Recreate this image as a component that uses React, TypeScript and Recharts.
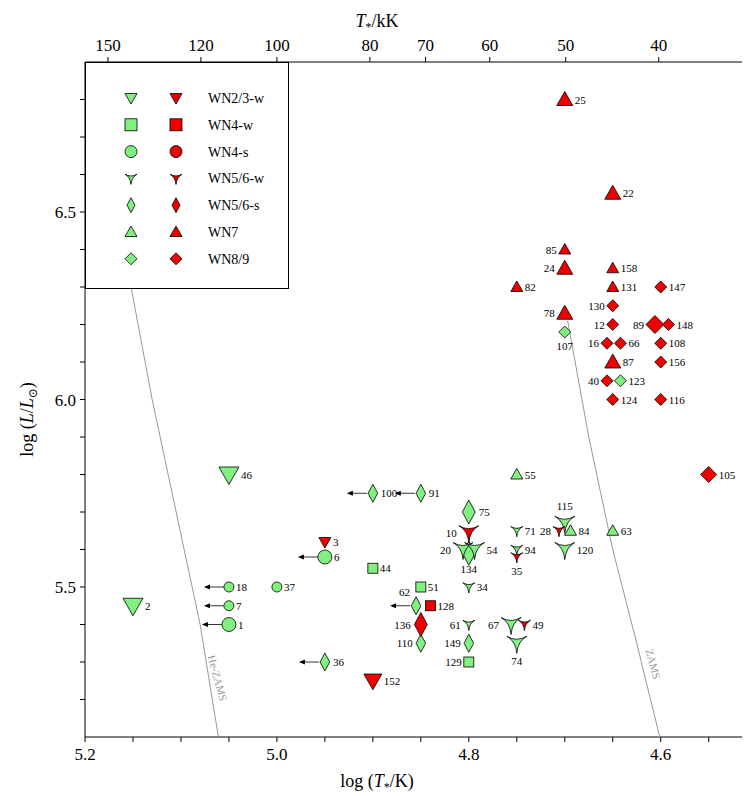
import { ComposedChart, Scatter, XAxis, YAxis, Label } from "recharts"

const FONT = "'Liberation Serif', 'DejaVu Serif', serif"
const GREEN = "#80f080"
const RED = "#ee0000"

// star id, log T, log L, class, colour, size, label side, arrow (upper limit on T)
const IDS = ["46","2","18","7","1","37","6","44","51","129","100","91","62","110","36","149","75","134","20","54","34","61","71","94","67","74","115","120","55","84","63","107","123",
  "25","22","85","24","82","78","158","131","87","147","130","12","89","148","16","66","108","156","40","124","116","105","3","10","35","28","49","128","136","152"]
const LOG_T = [5.05,5.15,5.05,5.05,5.05,5.0,4.95,4.9,4.85,4.8,4.9,4.85,4.855,4.85,4.95,4.8,4.8,4.8,4.806,4.794,4.8,4.8,4.75,4.75,4.756,4.75,4.7,4.7,4.75,4.694,4.65,4.7,4.642,
  4.7,4.65,4.7,4.7,4.75,4.7,4.65,4.65,4.65,4.6,4.65,4.65,4.606,4.592,4.656,4.642,4.6,4.6,4.656,4.65,4.6,4.55,4.95,4.8,4.75,4.706,4.742,4.84,4.85,4.9]
const LOG_L = [5.8,5.45,5.5,5.45,5.4,5.5,5.58,5.55,5.5,5.3,5.75,5.75,5.45,5.35,5.3,5.35,5.7,5.59,5.6,5.6,5.5,5.4,5.65,5.6,5.4,5.35,5.67,5.6,5.8,5.65,5.65,6.18,6.05,
  6.8,6.55,6.4,6.35,6.3,6.23,6.35,6.3,6.1,6.3,6.25,6.2,6.2,6.2,6.15,6.15,6.15,6.1,6.05,6.0,6.0,5.8,5.62,5.645,5.58,5.65,5.4,5.45,5.4,5.25]
const KIND = ["td","td","c","c","c","c","c","sq","sq","sq","ds","ds","ds","ds","ds","ds","ds","ds","y","y","y","y","y","y","y","y","y","y","tu","tu","tu","dd","dd",
  "tu","tu","tu","tu","tu","tu","tu","tu","tu","dd","dd","dd","dd","dd","dd","dd","dd","dd","dd","dd","dd","dd","td","y","y","y","y","sq","ds","td"]
const RED_FROM = 33
const SIZE = [10,10,5,5,7,5,7,5,5,5,6,6,6,6,6,6,8,8,10,10,6,6,6,6,10,10,10,10,6,6,6,6,6,
  8,8,6,8,6,8,6,6,8,6,6,6,9,6,6,6,6,6,6,6,6,8,6,10,6,6,6,5,8,9]
const SIDE = ["r","r","r","r","r","r","r","r","r","l","r","r","tl","l","r","l","r","b","l","r","r","l","r","r","l","b","t","r","r","r","r","b","r",
  "r","r","l","l","r","l","r","r","r","r","l","l","l","r","l","r","r","r","l","r","r","r","r","l","b","l","r","r","l","r"]
const ARROW = ["18","7","1","6","100","91","62","36"]

const HE_ZAMS_T = [5.152,5.13,5.105,5.08,5.061]
const HE_ZAMS_L = [6.3,6.0,5.7,5.4,5.1]
const ZAMS_T = [4.697,4.675,4.65,4.625,4.601]
const ZAMS_L = [6.21,5.9,5.6,5.35,5.1]

const X_TICKS = [5.2,5.15,5.1,5.05,5.0,4.95,4.9,4.85,4.8,4.75,4.7,4.65,4.6,4.55]
const Y_TICKS = [5.2,5.3,5.4,5.5,5.6,5.7,5.8,5.9,6.0,6.1,6.2,6.3,6.4,6.5,6.6,6.7,6.8]
const TOP_KK = [150,120,100,80,70,60,50,40]

const LEGEND_NAMES = ["WN2/3-w","WN4-w","WN4-s","WN5/6-w","WN5/6-s","WN7","WN8/9"]
const LEGEND_KINDS = ["td","sq","c","y","ds","tu","dd"]

const points = IDS.map((id, i) => ({
  id, x: LOG_T[i], y: LOG_L[i], kind: KIND[i], fill: i >= RED_FROM ? RED : GREEN,
  size: SIZE[i], side: SIDE[i], arrow: ARROW.includes(id),
}))
const heZams = HE_ZAMS_T.map((x, i) => ({ x, y: HE_ZAMS_L[i] }))
const zams = ZAMS_T.map((x, i) => ({ x, y: ZAMS_L[i] }))

function Marker({ kind, cx, cy, s, fill }: { kind: string; cx: number; cy: number; s: number; fill: string }) {
  const st = { fill, stroke: "#000", strokeWidth: 0.8 }
  if (kind === "c") return <circle cx={cx} cy={cy} r={s} {...st} />
  if (kind === "sq") return <rect x={cx - s} y={cy - s} width={2 * s} height={2 * s} {...st} />
  if (kind === "td") return <path d={`M${cx - s},${cy - s * 0.75} L${cx + s},${cy - s * 0.75} L${cx},${cy + s} Z`} {...st} />
  if (kind === "tu") return <path d={`M${cx - s},${cy + s * 0.75} L${cx + s},${cy + s * 0.75} L${cx},${cy - s} Z`} {...st} />
  if (kind === "ds") return <path d={`M${cx},${cy - s * 1.5} L${cx + s * 0.8},${cy} L${cx},${cy + s * 1.5} L${cx - s * 0.8},${cy} Z`} {...st} />
  if (kind === "dd") return <path d={`M${cx},${cy - s} L${cx + s},${cy} L${cx},${cy + s} L${cx - s},${cy} Z`} {...st} />
  // WN5/6-w: concave triangle
  return <path d={`M${cx - s},${cy - s * 0.7} Q${cx},${cy - s * 0.1} ${cx + s},${cy - s * 0.7} Q${cx + s * 0.1},${cy - s * 0.2} ${cx},${cy + s} Q${cx - s * 0.1},${cy - s * 0.2} ${cx - s},${cy - s * 0.7} Z`} {...st} />
}

function StarShape(props: any) {
  const { cx, cy, payload } = props
  const s = payload.size
  let tx = cx + s + 2, ty = cy + 4, anchor = "start"
  if (payload.side === "l") { tx = cx - s - 2; anchor = "end" }
  if (payload.side === "b") { tx = cx; ty = cy + s + 12; anchor = "middle" }
  if (payload.side === "t") { tx = cx; ty = cy - s - 3; anchor = "middle" }
  if (payload.side === "tl") { tx = cx - 6; ty = cy - s - 4; anchor = "end" }
  return (
    <g>
      {payload.arrow && (
        <g>
          <line x1={cx - s} y1={cy} x2={cx - s - 18} y2={cy} stroke="#000" strokeWidth={0.8} />
          <path d={`M${cx - s - 20},${cy} L${cx - s - 14},${cy - 2.5} L${cx - s - 14},${cy + 2.5} Z`} fill="#000" />
        </g>
      )}
      <Marker kind={payload.kind} cx={cx} cy={cy} s={s} fill={payload.fill} />
      <text x={tx} y={ty} fontSize={11} fontFamily={FONT} textAnchor={anchor}>{payload.id}</text>
    </g>
  )
}

function makeTick(fmt: (v: number) => string, where: "b" | "t" | "l") {
  return (p: any) => {
    const v = p.payload.value
    const txt = fmt(v)
    if (!txt) return <g />
    if (where === "l") return <text x={p.x - 2} y={p.y + 6} textAnchor="end" fontSize={17} fontFamily={FONT}>{txt}</text>
    return <text x={p.x} y={where === "b" ? p.y + 16 : p.y - 4} textAnchor="middle" fontSize={17} fontFamily={FONT}>{txt}</text>
  }
}
const fmtBottom = (v: number) => (Math.round(v * 100) % 20 === 0 ? v.toFixed(1) : "")
const fmtTop = (v: number) => String(Math.round(Math.pow(10, v) / 1000))
const fmtLeft = (v: number) => (Math.round(v * 10) % 5 === 0 ? v.toFixed(1) : "")

export default function App() {
  return (
    <div style={{ position: "relative", width: 742, height: 788, fontFamily: FONT }}>
      <ComposedChart width={742} height={788} margin={{ top: 24, right: 0, bottom: 29, left: 17 }}>
        <XAxis xAxisId="b" type="number" dataKey="x" domain={[4.508, 5.2]} reversed ticks={X_TICKS} height={30} interval={0}
          tick={makeTick(fmtBottom, "b")} tickSize={5} stroke="#000" allowDataOverflow>
          <Label content={({ viewBox }: any) => (
            <text x={viewBox.x + viewBox.width / 2 - 40} y={viewBox.y + 50} fontSize={18} fontFamily={FONT} textAnchor="middle">
              log (<tspan fontStyle="italic">T</tspan><tspan dy={4} fontSize={12}>*</tspan><tspan dy={-4}>/K)</tspan>
            </text>
          )} />
        </XAxis>
        <XAxis xAxisId="t" orientation="top" type="number" dataKey="x" domain={[4.508, 5.2]} reversed height={30} interval={0}
          ticks={TOP_KK.map((k) => Math.log10(k * 1000))}
          tick={makeTick(fmtTop, "t")} tickSize={5} stroke="#000" allowDataOverflow>
          <Label content={({ viewBox }: any) => (
            <text x={viewBox.x + viewBox.width / 2 - 40} y={viewBox.y - 5} fontSize={18} fontFamily={FONT} textAnchor="middle">
              <tspan fontStyle="italic">T</tspan><tspan dy={4} fontSize={12}>*</tspan><tspan dy={-4}>/kK</tspan>
            </text>
          )} />
        </XAxis>
        <YAxis yAxisId="l" type="number" dataKey="y" domain={[5.1, 6.9]} ticks={Y_TICKS} width={60} interval={0}
          tick={makeTick(fmtLeft, "l")} tickSize={5} stroke="#000" allowDataOverflow>
          <Label content={({ viewBox }: any) => {
            const x = viewBox.x + 8, y = viewBox.y + viewBox.height / 2 + 20
            return (
              <text transform={`translate(${x},${y}) rotate(-90)`} fontSize={18} fontFamily={FONT} textAnchor="middle">
                log (<tspan fontStyle="italic">L</tspan>/<tspan fontStyle="italic">L</tspan><tspan dy={4} fontSize={12}>⊙</tspan><tspan dy={-4}>)</tspan>
              </text>
            )
          }} />
        </YAxis>
        <YAxis yAxisId="r" orientation="right" type="number" dataKey="y" domain={[5.1, 6.9]} ticks={Y_TICKS}
          tick={false} tickSize={5} stroke="#000" width={1} allowDataOverflow />
        <Scatter xAxisId="b" yAxisId="l" data={heZams} line={{ stroke: "#999", strokeWidth: 1 }} lineType="joint" shape={() => null} isAnimationActive={false} />
        <Scatter xAxisId="b" yAxisId="l" data={zams} line={{ stroke: "#999", strokeWidth: 1 }} lineType="joint" shape={() => null} isAnimationActive={false} />
        <Scatter xAxisId="b" yAxisId="l" data={points} shape={StarShape} isAnimationActive={false} />
      </ComposedChart>
      <div style={{ position: "absolute", left: 186, top: 664, transform: "rotate(75deg)", fontSize: 11, color: "#999" }}>He-ZAMS</div>
      <div style={{ position: "absolute", left: 630, top: 650, transform: "rotate(75deg)", fontSize: 11, color: "#999" }}>ZAMS</div>
      <div style={{ position: "absolute", left: 77, top: 54, width: 202, height: 225, background: "#fff", border: "1px solid #000" }}>
        <svg width={202} height={225} style={{ position: "absolute", left: 0, top: 0 }}>
          {LEGEND_NAMES.map((name, i) => {
            const y = 35 + i * 26.8
            return (
              <g key={name}>
                <Marker kind={LEGEND_KINDS[i]} cx={45} cy={y} s={LEGEND_KINDS[i] === "ds" ? 5 : 6} fill={GREEN} />
                <Marker kind={LEGEND_KINDS[i]} cx={90} cy={y} s={LEGEND_KINDS[i] === "ds" ? 5 : 6} fill={RED} />
                <text x={122} y={y + 5} fontSize={14} fontFamily={FONT}>{name}</text>
              </g>
            )
          })}
        </svg>
      </div>
    </div>
  )
}
